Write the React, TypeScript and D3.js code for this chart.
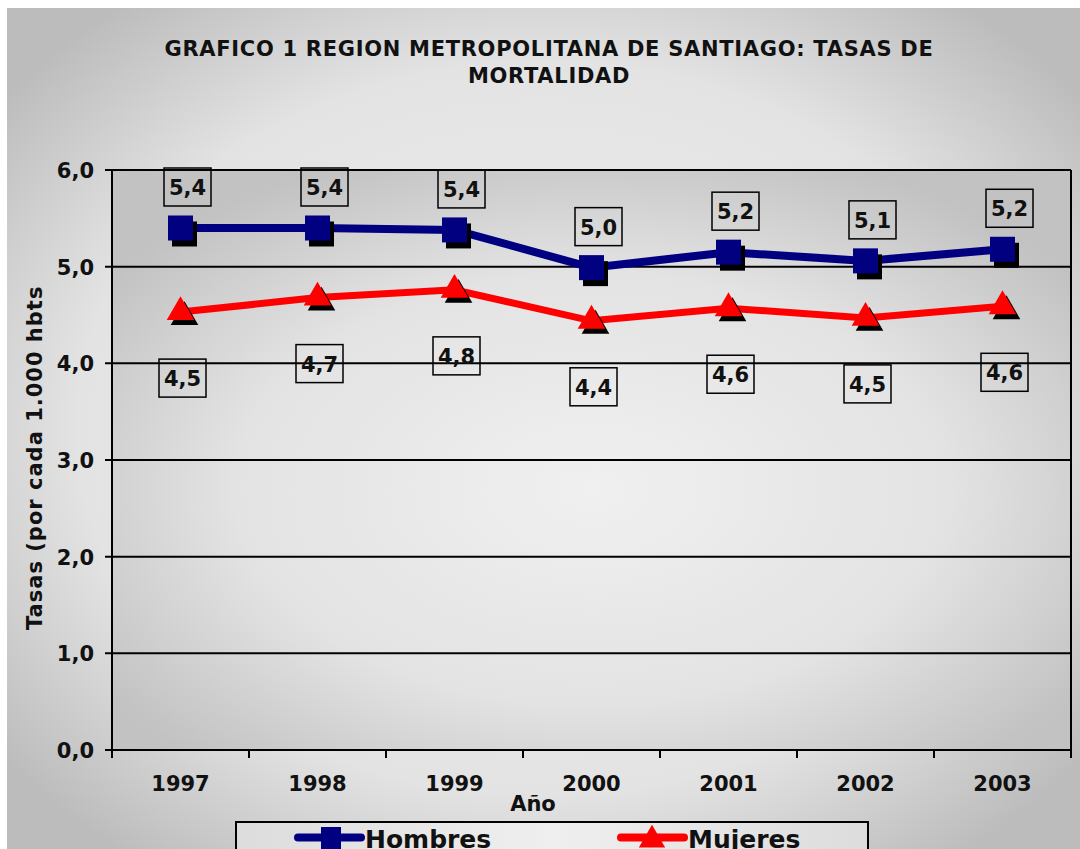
import * as d3 from "d3";

const years = ["1997", "1998", "1999", "2000", "2001", "2002", "2003"];
const hombres = [5.4, 5.4, 5.38, 4.99, 5.15, 5.06, 5.18];
const mujeres = [4.53, 4.68, 4.76, 4.44, 4.57, 4.47, 4.59];
const hombresLabels = ["5,4", "5,4", "5,4", "5,0", "5,2", "5,1", "5,2"];
const mujeresLabels = ["4,5", "4,7", "4,8", "4,4", "4,6", "4,5", "4,6"];
const yTicks = [0, 1, 2, 3, 4, 5, 6];

const W = 1080;
const H = 849;
const plot = { left: 112, right: 1071, top: 170, bottom: 750 };
const font = "'DejaVu Sans', Verdana, sans-serif";
const navy = "#000080";
const red = "#ff0000";
const ink = "#111";

const App = () => {
  const x = d3
    .scaleBand<string>()
    .domain(years)
    .range([plot.left, plot.right]);
  const cx = (d: string) => (x(d) ?? 0) + x.bandwidth() / 2;
  const y = d3.scaleLinear().domain([0, 6]).range([plot.bottom, plot.top]);

  const line = d3
    .line<number>()
    .x((_, i) => cx(years[i]))
    .y((d) => y(d));

  const tri = d3.symbol(d3.symbolTriangle, 330)();
  const sq = 25;

  const boundaries = years.map((d) => x(d) ?? 0).concat([plot.right]);

  return (
    <svg
      width={W}
      height={H}
      style={{ position: "absolute", left: 0, top: 0, fontFamily: font }}
    >
      <defs>
        <radialGradient id="bg" cx="0.5" cy="0.5" r="0.64">
          <stop offset="0" stopColor="#efefef" />
          <stop offset="0.68" stopColor="#e3e3e3" />
          <stop offset="1" stopColor="#bcbcbc" />
        </radialGradient>
        <radialGradient id="plotbg" cx="0.5" cy="0.55" r="0.62">
          <stop offset="0" stopColor="#f0f0f0" />
          <stop offset="0.6" stopColor="#e3e3e3" />
          <stop offset="1" stopColor="#c2c2c2" />
        </radialGradient>
        <linearGradient id="legbg" x1="0" x2="1" y1="0" y2="0">
          <stop offset="0" stopColor="#dcdcdc" />
          <stop offset="0.5" stopColor="#efefef" />
          <stop offset="1" stopColor="#dcdcdc" />
        </linearGradient>
        <clipPath id="ytclip">
          <rect x={0} y={286} width={100} height={500} />
        </clipPath>
      </defs>

      <rect x={0} y={0} width={W} height={H} fill="#ffffff" />
      <rect x={7} y={8} width={W - 7} height={H - 8} fill="url(#bg)" />

      {/* title */}
      <g fontWeight="bold" fontSize={21} textAnchor="middle" fill={ink} letterSpacing={0.7}>
        <text x={549} y={56}>
          GRAFICO 1 REGION METROPOLITANA DE SANTIAGO: TASAS DE
        </text>
        <text x={549} y={83}>
          MORTALIDAD
        </text>
      </g>

      {/* plot area */}
      <rect
        x={plot.left}
        y={plot.top}
        width={plot.right - plot.left}
        height={plot.bottom - plot.top}
        fill="url(#plotbg)"
      />
      {yTicks.map((t) => (
        <g key={t}>
          <line
            x1={plot.left - 7}
            x2={plot.right}
            y1={y(t)}
            y2={y(t)}
            stroke="#000"
            strokeWidth={2}
          />
          <text
            x={94}
            y={y(t) + 8}
            textAnchor="end"
            fontSize={21}
            fontWeight="bold"
            fill={ink}
          >
            {t.toFixed(1).replace(".", ",")}
          </text>
        </g>
      ))}
      <line
        x1={plot.left}
        x2={plot.left}
        y1={plot.top}
        y2={plot.bottom}
        stroke="#000"
        strokeWidth={2}
      />
      <line
        x1={plot.right}
        x2={plot.right}
        y1={plot.top}
        y2={plot.bottom}
        stroke="#000"
        strokeWidth={2}
      />
      {boundaries.map((b, i) => (
        <line
          key={i}
          x1={b}
          x2={b}
          y1={plot.bottom}
          y2={plot.bottom + 8}
          stroke="#000"
          strokeWidth={2}
        />
      ))}
      {years.map((d) => (
        <text
          key={d}
          x={cx(d)}
          y={791}
          textAnchor="middle"
          fontSize={21}
          fontWeight="bold"
          fill={ink}
        >
          {d}
        </text>
      ))}
      <text
        x={533}
        y={811}
        textAnchor="middle"
        fontSize={21}
        fontWeight="bold"
        fill={ink}
      >
        Año
      </text>
      <g clipPath="url(#ytclip)">
        <text
          transform={`translate(42,630) rotate(-90)`}
          textAnchor="start"
          fontSize={21}
          fontWeight="bold"
          letterSpacing={1}
          fill={ink}
        >
          Tasas (por cada 1.000 hbts)
        </text>
      </g>

      {/* lines */}
      <path d={line(hombres) ?? ""} fill="none" stroke={navy} strokeWidth={8} />
      <path d={line(mujeres) ?? ""} fill="none" stroke={red} strokeWidth={7} />

      {/* markers */}
      {hombres.map((v, i) => (
        <g key={"h" + i}>
          <rect
            x={cx(years[i]) - sq / 2 + 4}
            y={y(v) - sq / 2 + 6}
            width={sq}
            height={sq}
            fill="#000"
          />
          <rect
            x={cx(years[i]) - sq / 2}
            y={y(v) - sq / 2}
            width={sq}
            height={sq}
            fill={navy}
          />
        </g>
      ))}
      {mujeres.map((v, i) => (
        <g key={"m" + i}>
          <path
            d={tri ?? ""}
            transform={`translate(${cx(years[i]) + 4},${y(v) + 5})`}
            fill="#000"
          />
          <path
            d={tri ?? ""}
            transform={`translate(${cx(years[i])},${y(v)})`}
            fill={red}
          />
        </g>
      ))}

      {/* data labels */}
      {hombres.map((v, i) => (
        <g key={"hl" + i} transform={`translate(${cx(years[i]) + 7},${y(v) - 41})`}>
          <rect x={-23.5} y={-19} width={47} height={38} fill="none" stroke="#000" strokeWidth={1.5} />
          <text y={8} textAnchor="middle" fontSize={21} fontWeight="bold" fill={ink}>
            {hombresLabels[i]}
          </text>
        </g>
      ))}
      {mujeres.map((v, i) => (
        <g key={"ml" + i} transform={`translate(${cx(years[i]) + 2},${y(v) + 66})`}>
          <rect x={-23.5} y={-19} width={47} height={38} fill="none" stroke="#000" strokeWidth={1.5} />
          <text y={8} textAnchor="middle" fontSize={21} fontWeight="bold" fill={ink}>
            {mujeresLabels[i]}
          </text>
        </g>
      ))}

      {/* legend */}
      <rect x={236} y={822} width={632} height={40} fill="url(#legbg)" stroke="#000" strokeWidth={2} />
      <line x1={298} x2={361} y1={837.5} y2={837.5} stroke={navy} strokeWidth={8} strokeLinecap="round" />
      <rect x={321} y={827} width={20} height={22} fill={navy} />
      <text x={365} y={848} fontSize={25} fontWeight="bold" fill={ink}>
        Hombres
      </text>
      <line x1={621} x2={684} y1={837.5} y2={837.5} stroke={red} strokeWidth={8} strokeLinecap="round" />
      <path d={d3.symbol(d3.symbolTriangle, 300)() ?? ""} transform="translate(652,840)" fill={red} />
      <text x={688} y={848} fontSize={25} fontWeight="bold" fill={ink}>
        Mujeres
      </text>
    </svg>
  );
};

export default App;
